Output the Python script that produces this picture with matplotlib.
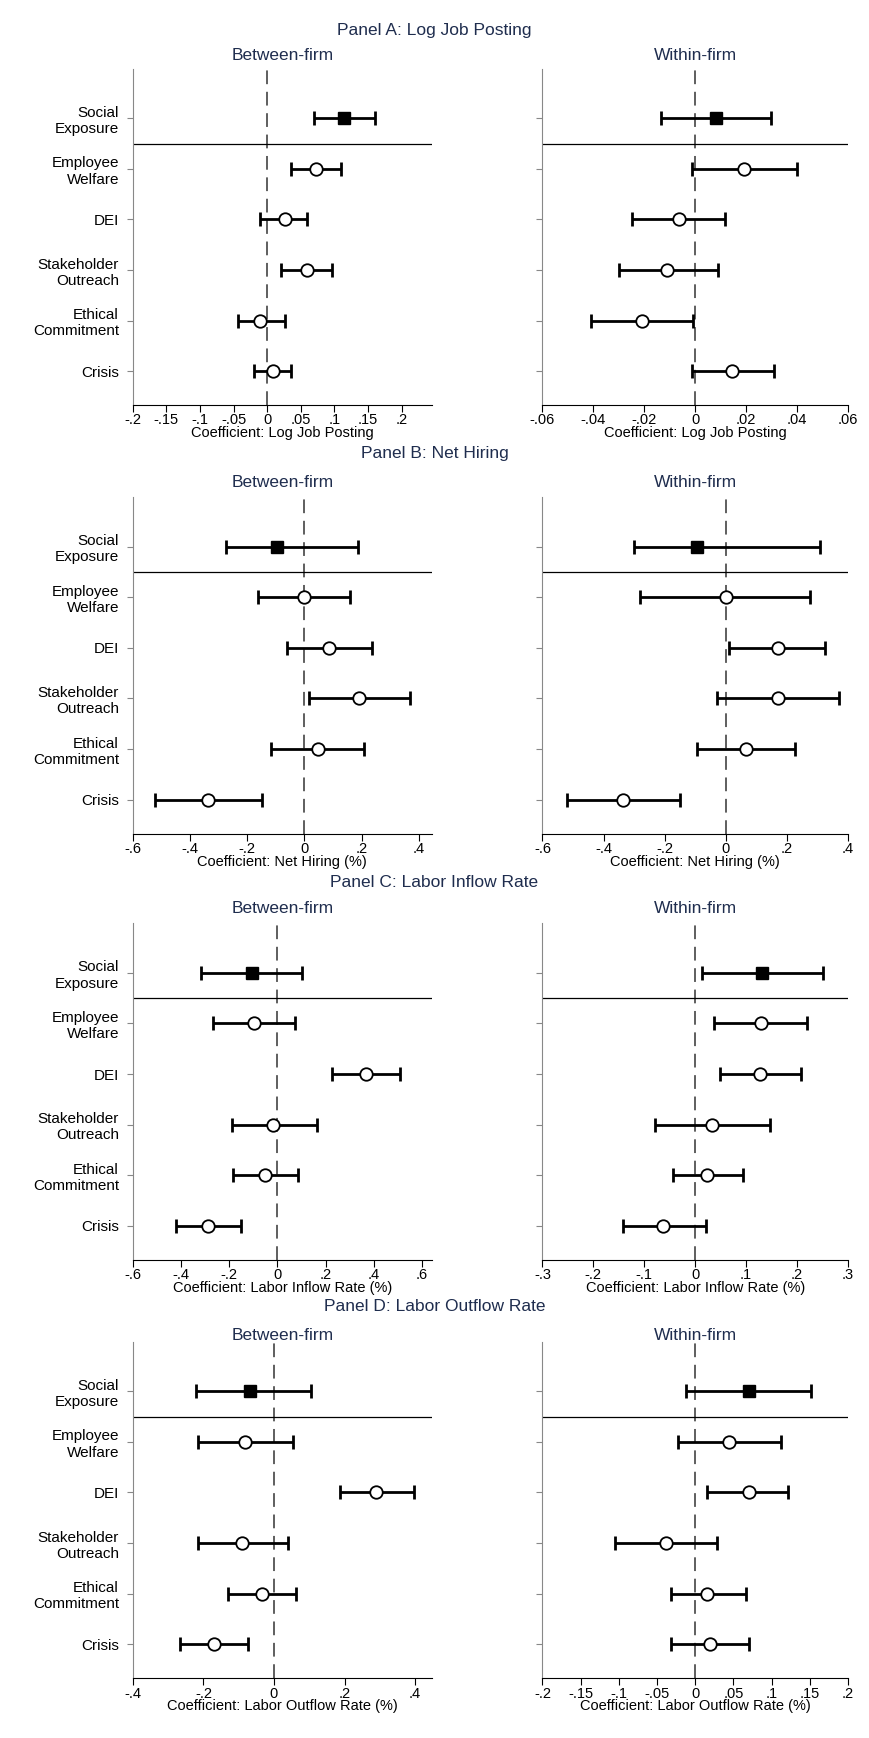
import numpy as np
import matplotlib.pyplot as plt

plt.rcParams['font.family'] = ['Liberation Sans', 'DejaVu Sans']

categories = ['Social\nExposure', 'Employee\nWelfare', 'DEI', 'Stakeholder\nOutreach', 'Ethical\nCommitment', 'Crisis']

# Panel A: Log Job Posting
a_between = [0.115, 0.072, 0.026, 0.059, -0.010, 0.008]
a_between_lo = [0.070, 0.035, -0.010, 0.020, -0.043, -0.020]
a_between_hi = [0.160, 0.110, 0.060, 0.097, 0.026, 0.036]
a_within = [0.008, 0.019, -0.0065, -0.011, -0.021, 0.0143]
a_within_lo = [-0.0135, -0.0013, -0.025, -0.030, -0.041, -0.0013]
a_within_hi = [0.0296, 0.040, 0.0117, 0.009, -0.001, 0.031]

# Panel B: Net Hiring
b_between = [-0.097, 0.0, 0.085, 0.19, 0.046, -0.337]
b_between_lo = [-0.275, -0.163, -0.062, 0.015, -0.116, -0.522]
b_between_hi = [0.186, 0.159, 0.236, 0.37, 0.209, -0.147]
b_within = [-0.094, 0.0, 0.17, 0.17, 0.065, -0.335]
b_within_lo = [-0.30, -0.28, 0.01, -0.03, -0.094, -0.52]
b_within_hi = [0.31, 0.277, 0.324, 0.37, 0.227, -0.15]

# Panel C: Labor Inflow Rate
c_between = [-0.105, -0.096, 0.367, -0.018, -0.050, -0.289]
c_between_lo = [-0.316, -0.266, 0.225, -0.19, -0.183, -0.42]
c_between_hi = [0.10, 0.073, 0.51, 0.165, 0.087, -0.151]
c_within = [0.131, 0.129, 0.127, 0.033, 0.024, -0.063]
c_within_lo = [0.013, 0.037, 0.048, -0.079, -0.044, -0.142]
c_within_hi = [0.251, 0.22, 0.207, 0.146, 0.094, 0.022]

# Panel D: Labor Outflow Rate
d_between = [-0.069, -0.081, 0.29, -0.09, -0.034, -0.169]
d_between_lo = [-0.222, -0.216, 0.188, -0.216, -0.13, -0.266]
d_between_hi = [0.106, 0.053, 0.397, 0.04, 0.063, -0.075]
d_within = [0.07, 0.044, 0.07, -0.038, 0.016, 0.019]
d_within_lo = [-0.012, -0.023, 0.016, -0.105, -0.032, -0.032]
d_within_hi = [0.151, 0.112, 0.122, 0.029, 0.067, 0.071]

panels = [
    ('Panel A: Log Job Posting', 'Coefficient: Log Job Posting',
     (a_between, a_between_lo, a_between_hi), (a_within, a_within_lo, a_within_hi),
     (-0.2, 0.245), np.arange(-0.2, 0.201, 0.05), (-0.06, 0.06), np.arange(-0.06, 0.061, 0.02)),
    ('Panel B: Net Hiring', 'Coefficient: Net Hiring (%)',
     (b_between, b_between_lo, b_between_hi), (b_within, b_within_lo, b_within_hi),
     (-0.6, 0.445), np.arange(-0.6, 0.401, 0.2), (-0.6, 0.4), np.arange(-0.6, 0.401, 0.2)),
    ('Panel C: Labor Inflow Rate', 'Coefficient: Labor Inflow Rate (%)',
     (c_between, c_between_lo, c_between_hi), (c_within, c_within_lo, c_within_hi),
     (-0.6, 0.64), np.arange(-0.6, 0.601, 0.2), (-0.3, 0.3), np.arange(-0.3, 0.301, 0.1)),
    ('Panel D: Labor Outflow Rate', 'Coefficient: Labor Outflow Rate (%)',
     (d_between, d_between_lo, d_between_hi), (d_within, d_within_lo, d_within_hi),
     (-0.4, 0.447), np.arange(-0.4, 0.401, 0.2), (-0.2, 0.2), np.arange(-0.2, 0.201, 0.05)),
]


def fmt(v):
    if abs(v) < 1e-9:
        return '0'
    s = ('%.2f' % v).rstrip('0').rstrip('.')
    return s.replace('0.', '.')


def draw(ax, data, xlim, ticks, xlabel, show_labels):
    est, lo, hi = [np.array(d) for d in data]
    y = np.arange(len(est))
    ax.axvline(0, color='#333333', lw=1.1, dashes=(9, 5), zorder=1)
    ax.axhline(0.5, color='black', lw=0.9, zorder=1)
    ax.errorbar(est, y, xerr=[est - lo, hi - est], fmt='none', ecolor='black',
                elinewidth=2, capsize=5, capthick=2, zorder=2)
    ax.plot(est[0], y[0], 's', ms=9, color='black', zorder=3)
    ax.plot(est[1:], y[1:], 'o', ms=9, mfc='white', mec='black', mew=1.3, zorder=3)
    ax.set_xlim(*xlim)
    ax.set_ylim(5.67, -0.98)
    ax.set_yticks(y)
    ax.set_yticklabels(categories if show_labels else [], fontsize=11)
    ax.set_xticks(ticks)
    ax.set_xticklabels([fmt(t) for t in ticks], fontsize=10.5)
    ax.set_xlabel(xlabel, fontsize=10.5, labelpad=-1)
    for s in ['top', 'right']:
        ax.spines[s].set_visible(False)
    ax.spines['left'].set_color('#888888')
    ax.tick_params(axis='y', length=4, color='#888888', pad=6)
    ax.tick_params(axis='x', length=5, pad=1)


fig = plt.figure(figsize=(8.69, 17.38), dpi=100)
H = 1570.0
W = 785.0
bottoms = [366, 753, 1138, 1516]
titles_y = [28, 410, 797, 1180]
sub_y = [50, 436, 821, 1206]
for i, (title, xlabel, bdata, wdata, bxlim, bticks, wxlim, wticks) in enumerate(panels):
    b = 1 - bottoms[i] / H
    h = 304 / H
    ax1 = fig.add_axes([120 / W, b, 270 / W, h])
    ax2 = fig.add_axes([490 / W, b, 276 / W, h])
    draw(ax1, bdata, bxlim, bticks, xlabel, True)
    draw(ax2, wdata, wxlim, wticks, xlabel, False)
    fig.text(0.5, 1 - titles_y[i] / H, title, ha='center', va='center', fontsize=12.5, color='#1f2d4e')
    fig.text(255 / W, 1 - sub_y[i] / H, 'Between-firm', ha='center', va='center', fontsize=12.5, color='#1f2d4e')
    fig.text(628 / W, 1 - sub_y[i] / H, 'Within-firm', ha='center', va='center', fontsize=12.5, color='#1f2d4e')

fig.savefig('out.png', dpi=100, facecolor='white')
